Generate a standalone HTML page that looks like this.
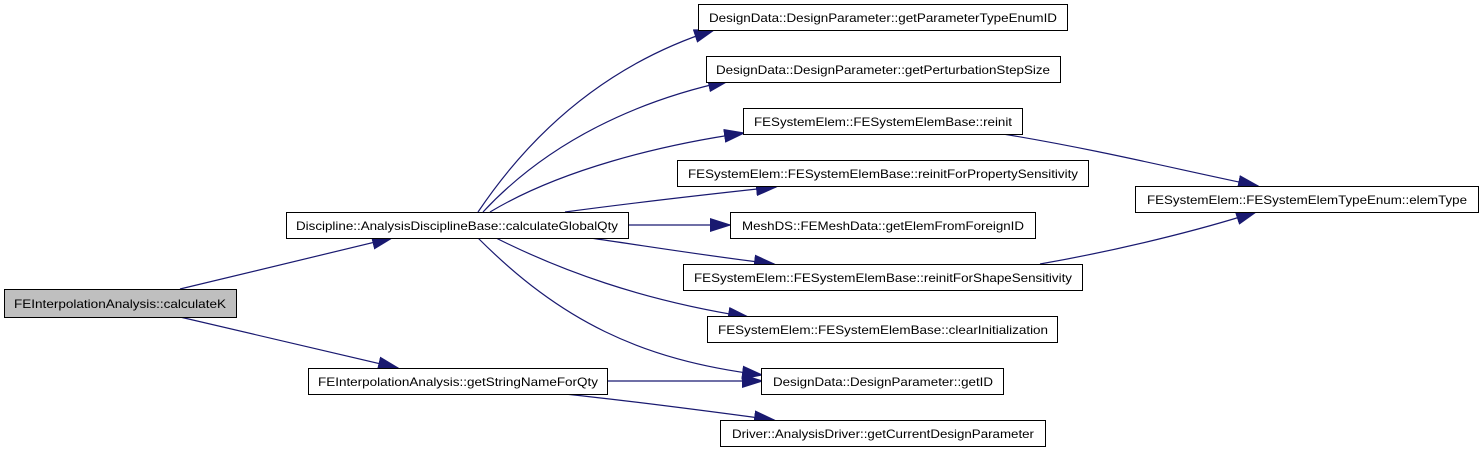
<!DOCTYPE html>
<html><head><meta charset="utf-8"><style>
html,body{margin:0;padding:0;background:#fff;width:1483px;height:453px;overflow:hidden}
svg{display:block}
text{font-family:"Liberation Sans",sans-serif;font-size:12px;fill:#000}
</style></head><body>
<svg width="1483" height="453" viewBox="0 0 1483 453" xmlns="http://www.w3.org/2000/svg">
<defs>
<marker id="a" markerWidth="10" markerHeight="8" refX="9" refY="4" orient="auto" markerUnits="userSpaceOnUse" viewBox="0 0 10 8">
<path d="M0,0 L10,4 L0,8 z" fill="#191970"/>
</marker>
<marker id="b" markerWidth="22" markerHeight="14" refX="20" refY="7" orient="auto" markerUnits="userSpaceOnUse" viewBox="0 0 22 14">
<path d="M0,0 L22,7 L0,14 z" fill="#191970"/>
</marker>
</defs>
<g fill="none" stroke="#191970" stroke-width="1.2" marker-end="url(#b)">
<path d="M180,289 L392,238"/>
<path d="M180,317 L398,368"/>
<path d="M478,212 C540,120 620,60 714,30"/>
<path d="M483,212 C550,140 640,100 728,81"/>
<path d="M490,212 C560,170 660,145 744,133"/>
<path d="M565,212 C640,202 720,193 776,187"/>
<path d="M628,225 L730,225"/>
<path d="M590,238 C640,245 700,255 774,264"/>
<path d="M496,238 C560,270 640,300 748,317"/>
<path d="M478,238 C560,320 640,360 762,375"/>
<path d="M607,381 L762,381"/>
<path d="M565,394 C640,402 700,410 774,420"/>
<path d="M1003,134 C1100,150 1180,170 1258,186"/>
<path d="M1040,264 C1120,250 1200,230 1256,212"/>
</g>
<g stroke-width="1">
<rect x="4.5" y="289.5" width="232" height="28" fill="#bfbfbf" stroke="#000"/>
<rect x="286.5" y="212.5" width="342" height="26" fill="#fff" stroke="#000"/>
<rect x="308.5" y="368.5" width="299" height="26" fill="#fff" stroke="#000"/>
<rect x="698.5" y="4.5" width="369" height="26" fill="#fff" stroke="#000"/>
<rect x="706.5" y="56.5" width="354" height="26" fill="#fff" stroke="#000"/>
<rect x="743.5" y="108.5" width="279" height="26" fill="#fff" stroke="#000"/>
<rect x="677.5" y="160.5" width="411" height="26" fill="#fff" stroke="#000"/>
<rect x="730.5" y="212.5" width="305" height="26" fill="#fff" stroke="#000"/>
<rect x="683.5" y="264.5" width="399" height="26" fill="#fff" stroke="#000"/>
<rect x="707.5" y="316.5" width="350" height="26" fill="#fff" stroke="#000"/>
<rect x="761.5" y="368.5" width="242" height="26" fill="#fff" stroke="#000"/>
<rect x="720.5" y="420.5" width="325" height="26" fill="#fff" stroke="#000"/>
<rect x="1135.5" y="186.5" width="343" height="26" fill="#fff" stroke="#000"/>
</g>
<g text-anchor="middle">
<text x="120" y="308" textLength="212" lengthAdjust="spacingAndGlyphs">FEInterpolationAnalysis::calculateK</text>
<text x="457" y="230" textLength="322" lengthAdjust="spacingAndGlyphs">Discipline::AnalysisDisciplineBase::calculateGlobalQty</text>
<text x="458" y="386" textLength="280" lengthAdjust="spacingAndGlyphs">FEInterpolationAnalysis::getStringNameForQty</text>
<text x="883" y="22" textLength="348" lengthAdjust="spacingAndGlyphs">DesignData::DesignParameter::getParameterTypeEnumID</text>
<text x="883" y="74" textLength="334" lengthAdjust="spacingAndGlyphs">DesignData::DesignParameter::getPerturbationStepSize</text>
<text x="883" y="126" textLength="258" lengthAdjust="spacingAndGlyphs">FESystemElem::FESystemElemBase::reinit</text>
<text x="883" y="178" textLength="390" lengthAdjust="spacingAndGlyphs">FESystemElem::FESystemElemBase::reinitForPropertySensitivity</text>
<text x="883" y="230" textLength="282" lengthAdjust="spacingAndGlyphs">MeshDS::FEMeshData::getElemFromForeignID</text>
<text x="883" y="282" textLength="378" lengthAdjust="spacingAndGlyphs">FESystemElem::FESystemElemBase::reinitForShapeSensitivity</text>
<text x="883" y="334" textLength="330" lengthAdjust="spacingAndGlyphs">FESystemElem::FESystemElemBase::clearInitialization</text>
<text x="883" y="386" textLength="220" lengthAdjust="spacingAndGlyphs">DesignData::DesignParameter::getID</text>
<text x="883" y="438" textLength="302" lengthAdjust="spacingAndGlyphs">Driver::AnalysisDriver::getCurrentDesignParameter</text>
<text x="1307" y="204" textLength="320" lengthAdjust="spacingAndGlyphs">FESystemElem::FESystemElemTypeEnum::elemType</text>
</g>
</svg>
</body></html>
